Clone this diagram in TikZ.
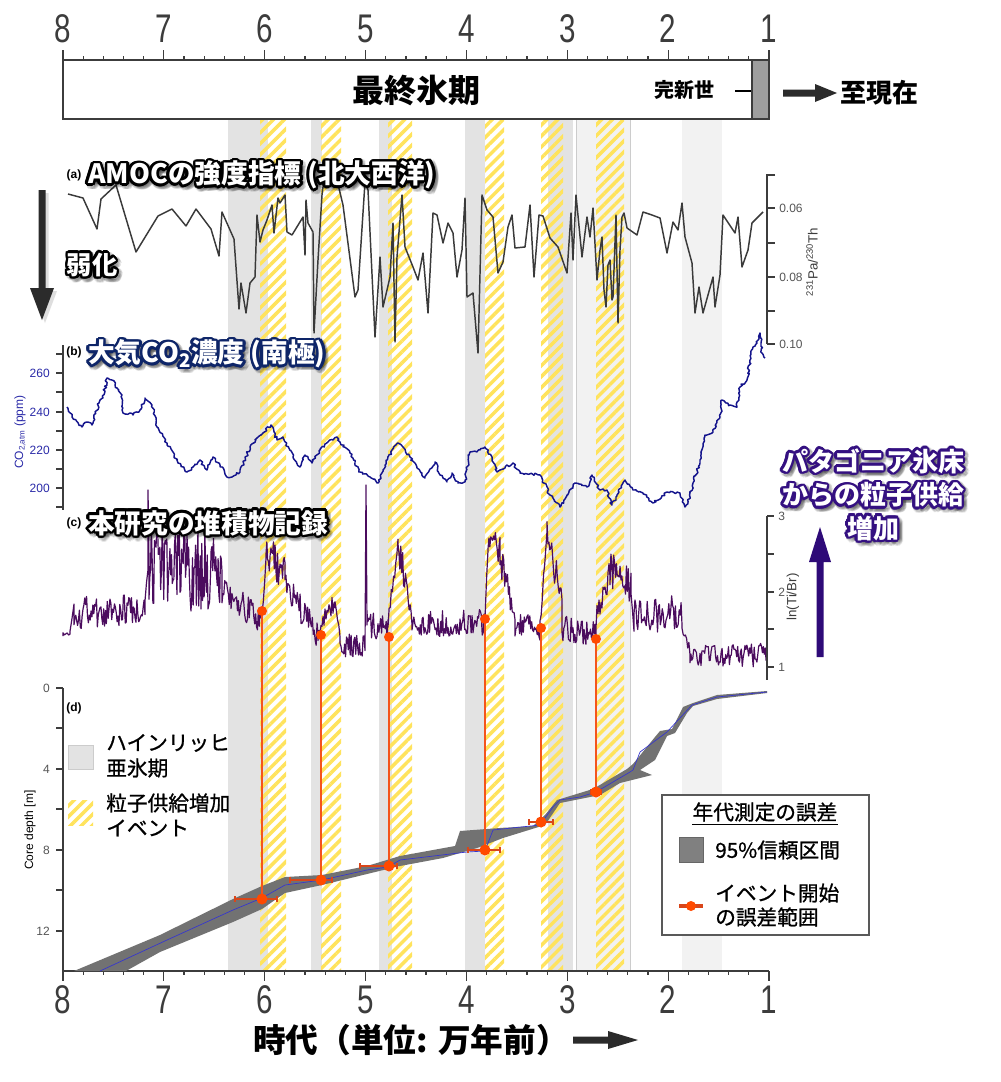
\documentclass[tikz,border=0pt]{standalone}
\usepackage{fontspec}
\setmainfont{Liberation Sans}
\newfontfamily\jp{Noto Sans CJK JP}
\newfontfamily\jpm[FakeBold=0.9]{Noto Sans CJK JP}
\usepackage{graphicx}
\usetikzlibrary{patterns.meta,decorations.pathmorphing,calc}
\definecolor{hsg}{HTML}{E3E3E3}
\definecolor{hsl}{HTML}{F2F2F2}
\definecolor{stry}{HTML}{FFE35C}
\definecolor{axg}{HTML}{3C3C3C}
\definecolor{labg}{HTML}{555555}
\definecolor{amoc}{HTML}{3A3A3A}
\definecolor{co2c}{HTML}{14148C}
\definecolor{co2l}{HTML}{2A2AA8}
\definecolor{tib}{HTML}{4B0C5E}
\definecolor{evo}{HTML}{F4541C}
\definecolor{evd}{HTML}{FF4A00}
\definecolor{errb}{HTML}{D9461A}
\definecolor{bandg}{HTML}{727272}
\definecolor{medb}{HTML}{3535D0}
\definecolor{navyo}{HTML}{0E2568}
\definecolor{indo}{HTML}{341081}
\definecolor{parr}{HTML}{2E0A78}
\definecolor{darr}{HTML}{2B2B2B}
\newcommand\nz[6]{-- plot[domain=#1:#2,samples=#6,variable=\t] (\t,{#3+(#4-#3)*(\t-#1)/(#2-#1)+#5*rand})}
% outlined text inside ONE box: #1 outline colour, #2 radius, #3 centre colour, #4 text
\newcommand\halob[4]{%
  \foreach \ang in {0,20,...,340}{%
    \pgfmathsetlengthmacro\hx{#2*cos(\ang)}%
    \pgfmathsetlengthmacro\hy{#2*sin(\ang)}%
    \rlap{\hspace*{\hx}\raisebox{\hy}{\color{#1}#4}}}%
  {\color{#3}#4}}
% #1 name, #2 anchor, #3 position, #4 outline colour, #5 font, #6 text
\newcommand\outl[6]{%
  \node[anchor=#2,font=#5,text opacity=0.09,inner sep=0pt,shift={(1.8pt,-1.8pt)}] at #3 {\halob{black}{2.8pt}{black}{#6}};%
  \node[anchor=#2,font=#5,inner sep=0pt] (#1) at #3 {\halob{#4}{1.9pt}{white}{#6}};}
\tikzset{
  ax/.style={draw=axg,line width=0.9pt},
  tlab/.style={font=\fontsize{9}{10}\selectfont,text=labg,inner sep=0pt},
  numlab/.style={font=\fontsize{30}{32}\selectfont,text=axg,inner sep=0pt},
  plab/.style={font=\bfseries\fontsize{9}{10}\selectfont,inner sep=0pt},
  stripes/.style={pattern={Lines[angle=45,distance=5.8pt,line width=2.6pt]},pattern color=stry},
  legtxt/.style={font=\jpm\fontsize{15.5}{19}\selectfont,anchor=west,inner sep=0pt},
}
\begin{document}
\begin{tikzpicture}[x=0.75pt,y=-0.75pt]
\useasboundingbox (0,0) rectangle (1000,1082);
\fill[white] (0,0) rectangle (1000,1082);
\pgfmathsetseed{7}
% ---- bands
\fill[hsg] (228,119) rectangle (268,971);
\fill[hsg] (311,119) rectangle (322,971);
\fill[hsg] (379,119) rectangle (392,971);
\fill[hsg] (465,119) rectangle (485,971);
\fill[hsg] (548,119) rectangle (573,971);
\fill[hsl] (576,119) rectangle (630,971);
\draw[black!20,line width=0.5pt] (576,119) -- (576,971) (630,119) -- (630,971);
\fill[hsl] (682,119) rectangle (722,971);
\foreach \a/\b in {260/286,321/341,388/412,485/504,541/563,596/624}{
  \fill[stripes] (\a,119) rectangle (\b,971);}
% ---- top box
\draw[ax,line width=1.3pt,fill=white] (63,60) rectangle (769,119);
\draw[ax,line width=1pt,fill=black!38] (752,60) rectangle (769,119);
\node[font=\jp\bfseries\fontsize{24}{28}\selectfont] (lgm) at (416,90) {最終氷期};
\node[font=\jp\bfseries\fontsize{15}{18}\selectfont] (hol) at (684,90) {完新世};
\draw[black,line width=1.3pt] (735,91) -- (751,91);
\fill[darr] (783,89.5) -- (815,89.5) -- (815,84) -- (837,93) -- (815,102) -- (815,96.5) -- (783,96.5) -- cycle;
\node[font=\jp\bfseries\fontsize{19.5}{24}\selectfont] (now) at (879,93) {至現在};
% ---- ticks top and bottom
\foreach \i in {0,...,35}{
  \pgfmathsetmacro\xx{63+\i*20.1714}
  \pgfmathsetmacro\tkl{(mod(\i,5)==0)*6+4}
  \pgfmathsetmacro\ya{60-\tkl}
  \pgfmathsetmacro\yb{971+\tkl}
  \draw[ax] (\xx,60) -- (\xx,\ya);
  \draw[ax] (\xx,971) -- (\xx,\yb);}
\foreach \n [count=\i from 0] in {8,7,...,1}{
  \pgfmathsetmacro\xx{63+\i*100.857}
  \node[numlab] at (\xx,29) {\scalebox{0.74}[1]{\n}};
  \node[numlab] at (\xx,1000) {\scalebox{0.74}[1]{\n}};}
\draw[ax,line width=1.3pt] (63,971) -- (769,971);
% ---- (a) AMOC
\draw[amoc,line width=1.1pt,line join=round] (68,194) -- (83,198) -- (97,229) -- (101,199) -- (116,185) -- (136,252) -- (158,216) -- (172,209) -- (186,226) -- (196,209) -- (211,229) -- (219,256) -- (222,212) -- (234,239) -- (239,309) -- (241,283) -- (246,313) -- (250,283) -- (255,277) -- (257,215) -- (260,242) -- (263,230) -- (267,220) -- (272,205) -- (274,233) -- (278,198) -- (280,203) -- (285,195) -- (287,232) -- (292,235) -- (303,217) -- (305,255) -- (306,200) -- (308,223) -- (313,232) -- (314,333) -- (318,260) -- (322,195) -- (323,187) -- (327,182) -- (337,180) -- (343,205) -- (355,297) -- (358,290) -- (365,182) -- (368,190) -- (375,337) -- (380,257) -- (383,307) -- (387,290) -- (390,277) -- (393,223) -- (395,342) -- (397,257) -- (402,195) -- (405,247) -- (413,267) -- (418,280) -- (423,253) -- (428,313) -- (433,213) -- (437,215) -- (443,243) -- (448,223) -- (453,233) -- (457,277) -- (462,250) -- (465,198) -- (467,297) -- (473,293) -- (478,353) -- (482,195) -- (487,210) -- (493,217) -- (498,273) -- (503,262) -- (508,227) -- (512,215) -- (515,248) -- (525,247) -- (530,205) -- (534,277) -- (539,215) -- (543,216) -- (550,238) -- (558,247) -- (567,273) -- (571,213) -- (573,260) -- (576,195) -- (582,257) -- (587,217) -- (590,237) -- (593,208) -- (597,280) -- (600,250) -- (602,237) -- (604,290) -- (606,307) -- (608,265) -- (610,260) -- (612,300) -- (613,297) -- (616,215) -- (618,323) -- (620,250) -- (622,217) -- (624,213) -- (627,228) -- (637,235) -- (643,212) -- (652,215) -- (660,218) -- (667,253) -- (673,222) -- (678,230) -- (682,203) -- (685,237) -- (692,263) -- (695,313) -- (699,287) -- (703,313) -- (713,277) -- (715,307) -- (720,275) -- (723,215) -- (735,233) -- (738,217) -- (742,267) -- (748,250) -- (752,223) -- (763,212);
% Pa/Th axis
\draw[ax] (775,175) -- (767,175) -- (767,344);
\foreach \y in {208,243,277,311,344}{\draw[ax] (767,\y) -- (775,\y);}
\node[tlab,anchor=west] (p06) at (779,208) {0.06};
\node[tlab,anchor=west] (p08) at (779,277) {0.08};
\node[tlab,anchor=west] (p10) at (779,344) {0.10};
\node[tlab,text=axg,rotate=90,font=\fontsize{10}{11}\selectfont] (pal) at (812,262) {\textsuperscript{231}Pa/\textsuperscript{230}Th};
% ---- (b) CO2
\draw[co2c,line width=1.1pt,line join=round,decorate,decoration={random steps,segment length=1.5pt,amplitude=1pt}] (67,407) -- (72,417) -- (82,427) -- (87,422) -- (92,425) -- (100,400) -- (103,398) -- (107,378) -- (112,380) -- (117,388) -- (122,395) -- (123,413) -- (130,413) -- (133,415) -- (140,410) -- (145,398) -- (152,405) -- (157,427) -- (167,443) -- (178,463) -- (187,472) -- (193,467) -- (200,460) -- (207,470) -- (213,457) -- (220,465) -- (227,477) -- (232,477) -- (240,472) -- (250,447) -- (257,438) -- (263,433) -- (271,425) -- (277,440) -- (283,437) -- (293,457) -- (300,467) -- (305,455) -- (312,463) -- (320,450) -- (328,442) -- (337,437) -- (340,442) -- (350,453) -- (360,472) -- (370,477) -- (378,483) -- (383,470) -- (392,450) -- (398,443) -- (403,447) -- (410,457) -- (417,467) -- (425,478) -- (435,462) -- (440,475) -- (447,482) -- (452,473) -- (458,483) -- (465,482) -- (470,452) -- (480,450) -- (485,447) -- (492,457) -- (497,472) -- (500,470) -- (513,463) -- (520,473) -- (540,475) -- (550,495) -- (560,507) -- (567,495) -- (575,483) -- (587,487) -- (592,475) -- (600,490) -- (607,490) -- (612,505) -- (625,480) -- (633,490) -- (643,493) -- (653,503) -- (667,492) -- (680,493) -- (685,507) -- (690,497) -- (693,483) -- (700,463) -- (705,435) -- (713,432) -- (720,417) -- (722,400) -- (730,405) -- (737,407) -- (740,387) -- (747,380) -- (750,360) -- (753,347) -- (757,343) -- (760,333) -- (762,353) -- (765,358);
\draw[ax] (63,345) -- (63,510);
\foreach \y in {354,373,392,412,431,450,469,488,507}{\draw[ax] (63,\y) -- (56,\y);}
\foreach \v/\y in {260/373,240/412,220/450,200/488}{\node[tlab,text=co2l,anchor=east] at (50,\y) {\v};}
\node[tlab,text=co2l,rotate=90] (co2lab) at (20,432) {CO\textsubscript{2,atm} (ppm)};
% ---- (c) Ti/Br
\draw[tib,line width=0.9pt,line join=round] (63,636) \nz{63}{70}{636}{632}{4}{6} \nz{70}{74}{630}{606}{3}{3} \nz{74}{145}{612}{612}{17}{80} \nz{145}{148}{600}{565}{5}{3} -- (148,490) -- (149,560) \nz{149}{222}{566}{572}{42}{95} \nz{222}{262}{588}{622}{15}{45} \nz{262}{266}{615}{560}{5}{4} \nz{266}{285}{550}{575}{18}{24} \nz{285}{318}{585}{636}{15}{36} \nz{318}{335}{632}{598}{12}{18} \nz{335}{340}{598}{630}{8}{5} \nz{340}{365}{645}{648}{13}{28} -- (366,485) -- (367,625) \nz{367}{388}{625}{628}{13}{24} \nz{388}{398}{620}{545}{8}{10} \nz{398}{412}{548}{610}{16}{16} \nz{412}{485}{625}{622}{13}{80} \nz{485}{488}{615}{550}{5}{3} \nz{488}{500}{545}{550}{16}{14} \nz{500}{515}{560}{612}{16}{17} \nz{515}{540}{626}{628}{13}{28} \nz{540}{547}{625}{530}{8}{7} \nz{547}{562}{535}{600}{16}{17} \nz{562}{596}{628}{635}{13}{38} \nz{596}{610}{620}{570}{14}{15} \nz{610}{631}{570}{585}{18}{24} \nz{631}{634}{590}{630}{4}{3} \nz{634}{682}{618}{612}{18}{52} \nz{682}{690}{625}{652}{6}{8} \nz{690}{767}{655}{655}{12}{85};
\draw[ax] (767,516) -- (767,680);
\foreach \y in {516,554,592,629,667}{\draw[ax] (767,\y) -- (774,\y);}
\foreach \v/\y in {3/516,2/592,1/667}{\node[tlab,anchor=west] at (778,\y) {\v};}
\node[tlab,text=axg,rotate=90,font=\fontsize{10}{11}\selectfont] (tibl) at (793,597) {ln(Ti/Br)};
% ---- (d) age-depth
\fill[bandg] (74,971) -- (160,935) -- (233,899) -- (262,886) -- (285,877) -- (322,875) -- (367,866) -- (400,856) -- (455,846) -- (460,831) -- (500,828) -- (533,826) -- (545,815) -- (557,800) -- (593,789) -- (627,769) -- (633,764) -- (655,737) -- (660,731) -- (672,729) -- (683,707) -- (693,703) -- (717,695) -- (767,691) -- (767,693) -- (717,699) -- (693,706) -- (687,713) -- (675,733) -- (667,736) -- (655,760) -- (640,770) -- (652,775) -- (620,783) -- (600,795) -- (580,799) -- (560,803) -- (545,825) -- (503,838) -- (477,848) -- (443,858) -- (400,866) -- (367,874) -- (322,885) -- (285,893) -- (262,909) -- (233,922) -- (160,952) -- (126,971) -- cycle;
\draw[medb,line width=0.5pt] (100,971) -- (167,940) -- (233,910) -- (262,898) -- (285,885) -- (322,880) -- (367,870) -- (388,867) -- (400,860) -- (467,852) -- (485,851) -- (493,830) -- (540,825) -- (553,807) -- (560,800) -- (580,797) -- (596,792) -- (630,772) -- (633,770) -- (640,752) -- (667,732) -- (692,705) -- (717,697) -- (767,692);
\draw[ax] (63,688) -- (63,971);
\foreach \y in {688,728,769,809,850,890,931}{\draw[ax] (63,\y) -- (56,\y);}
\foreach \v/\y in {0/688,4/769,8/850,12/931}{\node[tlab,anchor=east] at (50,\y) {\v};}
\node[tlab,text=black,rotate=90] (depl) at (30,830) {Core depth [m]};
% ---- events
\foreach \x/\yt/\yb/\xa/\xb in {262/611/899/235/277,321/635/880/290/332,389/637/866/360/397,485/619/850/468/500,541/628/822/529/553,596/639/792/591/601}{
  \pgfmathsetmacro\ylo{\yb-3}
  \pgfmathsetmacro\yhi{\yb+3}
  \draw[evo,line width=1.4pt] (\x,\yt) -- (\x,\yb);
  \draw[errb,line width=2.2pt] (\xa,\yb) -- (\xb,\yb);
  \draw[errb,line width=0.9pt] (\xa,\ylo) -- (\xa,\yhi) (\xb,\ylo) -- (\xb,\yhi);
  \fill[evd] (\x,\yt) circle[radius=5];
  \fill[evd] (\x,\yb) circle[radius=5.5];}
% ---- panel labels
\node[plab] (la) at (74,175) {(a)};
\node[plab] (lb) at (74,352) {(b)};
\node[plab] (lc) at (74,523) {(c)};
\node[plab] (ld) at (74,708) {(d)};
\outl{ta}{west}{(88,175)}{black}{\jp\bfseries\fontsize{20}{24}\selectfont}{AMOCの強度指標 (北大西洋)}
\outl{tb}{west}{(88,354)}{navyo}{\jp\bfseries\fontsize{20}{24}\selectfont}{大気CO\textsubscript{2}濃度 (南極)}
\outl{tc}{west}{(88,523)}{black}{\jp\bfseries\fontsize{20}{24}\selectfont}{本研究の堆積物記録}
% ---- weakening arrow
\fill[black!25,opacity=0.5] (41.5,193) -- (48.5,193) -- (48.5,291) -- (57,291) -- (45,323) -- (33,291) -- (41.5,291) -- cycle;
\fill[darr] (38.5,190) -- (45.5,190) -- (45.5,288) -- (54,288) -- (42,320) -- (30,288) -- (38.5,288) -- cycle;
\outl{weak}{center}{(92,265)}{black}{\jp\bfseries\fontsize{19}{24}\selectfont}{弱化}
% ---- Patagonia arrow and text
\fill[parr] (816.5,657) -- (823.5,657) -- (823.5,562) -- (831,562) -- (820,527) -- (809,562) -- (816.5,562) -- cycle;
\outl{pat}{center}{(873,498)}{indo}{\jp\bfseries\fontsize{19.5}{25}\selectfont}{\begin{tabular}{@{}c@{}}パタゴニア氷床\\からの粒子供給\\増加\end{tabular}}
% ---- left legend
\fill[hsg,draw=black!20] (68,745) rectangle (93,769);
\fill[stripes] (68,800) rectangle (93,825);
\node[legtxt] (l1) at (106,743) {ハインリッヒ};
\node[legtxt] (l2) at (106,768) {亜氷期};
\node[legtxt] (l3) at (106,803) {粒子供給増加};
\node[legtxt] (l4) at (106,828) {イベント};
% ---- right legend
\draw[fill=white,draw=black!65,line width=0.9pt] (662,795) rectangle (869,935);
\node[font=\jpm\fontsize{15.5}{19}\selectfont,inner sep=0pt] (lt) at (765,812) {年代測定の誤差};
\draw[black,line width=0.8pt] ($(lt.south west)+(0,3)$) -- ($(lt.south east)+(0,3)$);
\fill[black!50,draw=black!60] (679,837) rectangle (703,862);
\node[legtxt] (lci) at (715,850) {95\%信頼区間};
\draw[errb,line width=3pt] (679,906) -- (703,906);
\fill[evd] (691,906) circle[radius=5];
\node[legtxt] (le1) at (715,893) {イベント開始};
\node[legtxt] (le2) at (715,917) {の誤差範囲};
% ---- bottom title
\node[font=\jp\bfseries\fontsize{24.5}{28}\selectfont] (xt) at (411,1040) {時代（単位: 万年前）};
\fill[darr] (573,1036.5) -- (608,1036.5) -- (608,1031) -- (638,1040) -- (608,1049) -- (608,1043.5) -- (573,1043.5) -- cycle;
\end{tikzpicture}
\end{document}
